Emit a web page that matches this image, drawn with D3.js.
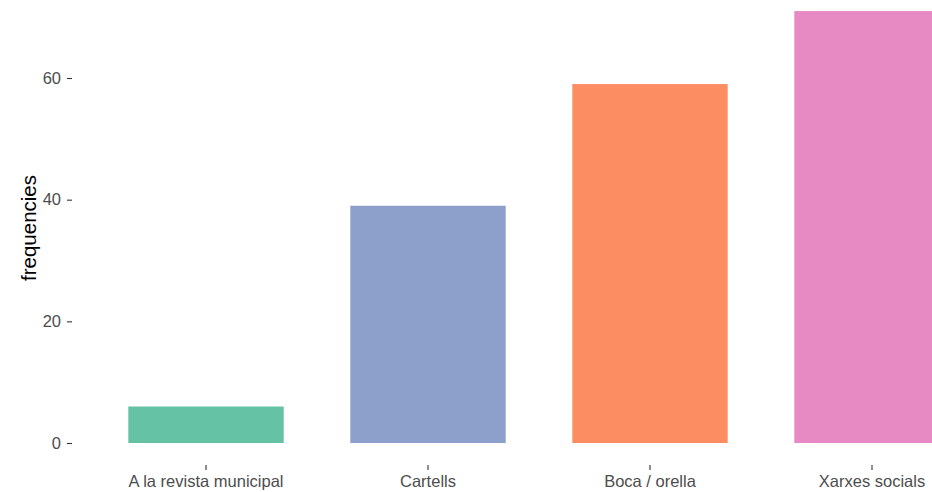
<!DOCTYPE html>
<html><head><meta charset="utf-8">
<script src="https://cdn.jsdelivr.net/npm/d3@7"></script>
<style>body{margin:0;background:#fff}svg{display:block}</style>
</head><body><svg id="c" width="932" height="492"></svg>
<script>
const categories = ["A la revista municipal", "Cartells", "Boca / orella", "Xarxes socials"];
const values = [6, 39, 59, 71];
const colors = ["#66c2a5", "#8da0cb", "#fc8d62", "#e78ac3"];
const yTicks = [0, 20, 40, 60];

const svg = d3.select("#c");
const x = d3.scaleBand().domain(categories).range([72.8, 1005.2]).paddingInner(0.3).paddingOuter(0.25);
const y = d3.scaleLinear().domain([0, 60]).range([443, 78]);

svg.selectAll("rect.bar").data(categories).join("rect")
  .attr("class", "bar")
  .attr("x", d => x(d)).attr("width", x.bandwidth())
  .attr("y", (d, i) => y(values[i])).attr("height", (d, i) => y(0) - y(values[i]))
  .attr("fill", (d, i) => colors[i]);

const font = "'Liberation Sans', Arial, sans-serif";
const yAxis = svg.append("g").attr("transform", "translate(72,0)")
  .call(d3.axisLeft(y).tickValues(yTicks).tickSize(5).tickPadding(6));
yAxis.select(".domain").remove();
yAxis.selectAll("line").attr("stroke", "#333").attr("stroke-width", 1.1);
yAxis.selectAll("text").attr("fill", "#4d4d4d").style("font-family", font).style("font-size", "16.5px");

const xAxis = svg.append("g").attr("transform", "translate(0,465)")
  .call(d3.axisBottom(x).tickSize(5).tickPadding(5));
xAxis.select(".domain").remove();
xAxis.selectAll("line").attr("stroke", "#333").attr("stroke-width", 1.1);
xAxis.selectAll("text").attr("fill", "#4d4d4d").style("font-family", font).style("font-size", "16.5px");

svg.append("text").attr("transform", "translate(36,228) rotate(-90)")
  .attr("text-anchor", "middle").style("font-family", font).style("font-size", "20.5px")
  .attr("fill", "#000").text("frequencies");
</script></body></html>
